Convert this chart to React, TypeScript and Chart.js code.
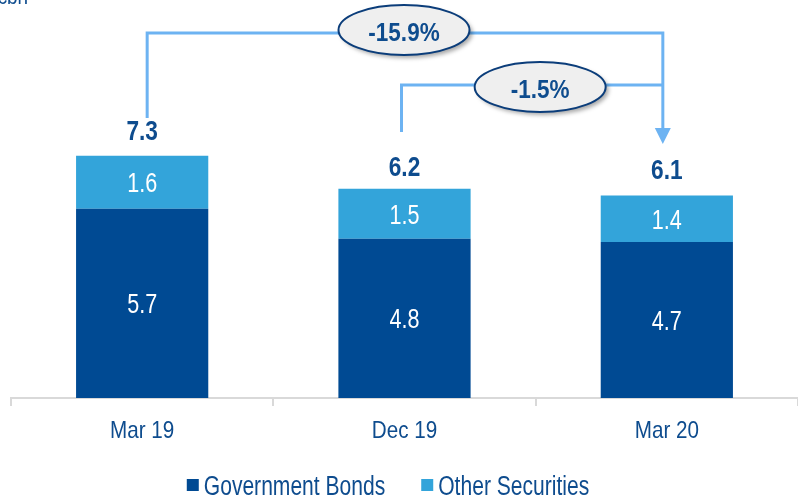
import React, { useEffect, useRef } from "react";
import { Chart, registerables } from "chart.js";

Chart.register(...registerables);

const categories = ["Mar 19", "Dec 19", "Mar 20"];
const governmentBonds = [5.7, 4.8, 4.7];
const otherSecurities = [1.6, 1.5, 1.4];
const totals = [7.3, 6.2, 6.1];
const changeLabels = ["-15.9%", "-1.5%"];
const changeFrom = [0, 1];
const changeTo = 2;
const unitLabel = "€bn";

const FONT = "'Liberation Sans', Arial, sans-serif";
const DARK = "#004A93";
const LIGHT = "#33A4DA";
const TEXT = "#0E4C8E";
const ARROW = "#6DB3F2";

function narrow(
  ctx: CanvasRenderingContext2D,
  text: string,
  x: number,
  y: number,
  size: number,
  bold: boolean,
  sx: number,
  color: string,
  align: CanvasTextAlign = "center"
) {
  ctx.save();
  ctx.translate(x, y);
  ctx.scale(sx, 1);
  ctx.font = `${bold ? "bold " : ""}${size}px ${FONT}`;
  ctx.fillStyle = color;
  ctx.textAlign = align;
  ctx.textBaseline = "alphabetic";
  ctx.fillText(text, 0, 0);
  ctx.restore();
}

function narrowWidth(ctx: CanvasRenderingContext2D, text: string, size: number, bold: boolean, sx: number) {
  ctx.save();
  ctx.font = `${bold ? "bold " : ""}${size}px ${FONT}`;
  const w = ctx.measureText(text).width * sx;
  ctx.restore();
  return w;
}

function ellipse(ctx: CanvasRenderingContext2D, cx: number, cy: number, w: number, h: number, text: string) {
  ctx.save();
  ctx.shadowColor = "rgba(0,0,0,0.35)";
  ctx.shadowOffsetX = 3;
  ctx.shadowOffsetY = 3;
  ctx.shadowBlur = 4;
  ctx.beginPath();
  ctx.ellipse(cx, cy, w / 2, h / 2, 0, 0, Math.PI * 2);
  ctx.fillStyle = "#EFEFEF";
  ctx.fill();
  ctx.restore();
  ctx.save();
  ctx.beginPath();
  ctx.ellipse(cx, cy, w / 2, h / 2, 0, 0, Math.PI * 2);
  ctx.strokeStyle = "#0B3D7A";
  ctx.lineWidth = 2;
  ctx.stroke();
  ctx.restore();
  narrow(ctx, text, cx, cy + 11, 25, true, 0.9, TEXT);
}

const overlay = {
  id: "overlay",
  afterDatasetsDraw(chart: any) {
    const ctx: CanvasRenderingContext2D = chart.ctx;
    const y = chart.scales.y;
    const x = chart.scales.x;
    const metaG = chart.getDatasetMeta(0);
    const metaO = chart.getDatasetMeta(1);

    // values inside segments
    metaG.data.forEach((bar: any, i: number) => {
      narrow(ctx, governmentBonds[i].toFixed(1), bar.x, (bar.y + bar.base) / 2 + 10, 27, false, 0.8, "#ffffff");
    });
    metaO.data.forEach((bar: any, i: number) => {
      narrow(ctx, otherSecurities[i].toFixed(1), bar.x, (bar.y + bar.base) / 2 + 10, 27, false, 0.8, "#ffffff");
    });
    // totals
    metaO.data.forEach((bar: any, i: number) => {
      narrow(ctx, totals[i].toFixed(1), bar.x, y.getPixelForValue(totals[i]) - 16, 27, true, 0.84, TEXT);
    });

    // category labels
    categories.forEach((c, i) => {
      narrow(ctx, c, x.getPixelForValue(i), 438, 24, false, 0.86, TEXT);
    });

    // connector lines
    const xs = metaO.data.map((b: any) => b.x);
    const xTo = xs[changeTo] - 4;
    const x0 = xs[changeFrom[0]] + 5;
    const x1 = xs[changeFrom[1]] - 3;
    const yTop1 = 33;
    const yTop2 = 85;
    ctx.save();
    ctx.strokeStyle = ARROW;
    ctx.lineWidth = 3;
    ctx.beginPath();
    ctx.moveTo(x0, 118);
    ctx.lineTo(x0, yTop1);
    ctx.lineTo(xTo, yTop1);
    ctx.lineTo(xTo, 130);
    ctx.moveTo(x1, 132);
    ctx.lineTo(x1, yTop2);
    ctx.lineTo(xTo, yTop2);
    ctx.stroke();
    ctx.fillStyle = ARROW;
    ctx.beginPath();
    ctx.moveTo(xTo - 8, 128);
    ctx.lineTo(xTo + 8, 128);
    ctx.lineTo(xTo, 144);
    ctx.closePath();
    ctx.fill();
    ctx.restore();

    ellipse(ctx, (x0 + xTo) / 2 - 1, 30, 131, 50, changeLabels[0]);
    ellipse(ctx, (x1 + xTo) / 2 + 8, 87, 131, 50, changeLabels[1]);

    // unit label (cut at top)
    narrow(ctx, unitLabel, 28, 4, 22, false, 0.86, TEXT, "right");

    // legend
    const items = chart.data.datasets.map((d: any) => ({ label: d.label, color: d.backgroundColor }));
    const box = 12;
    const gapBoxText = 5;
    const gapItems = 36;
    const lsize = 27;
    const lsx = 0.78;
    const widths = items.map((it: any) => box + gapBoxText + narrowWidth(ctx, it.label, lsize, false, lsx));
    const total = widths.reduce((a: number, b: number) => a + b, 0) + gapItems * (items.length - 1);
    let lx = chart.width / 2 - 11 - total / 2;
    items.forEach((it: any, i: number) => {
      ctx.fillStyle = it.color;
      ctx.fillRect(lx, 479, box, box);
      narrow(ctx, it.label, lx + box + gapBoxText, 495, lsize, false, lsx, TEXT, "left");
      lx += widths[i] + gapItems;
    });
  },
};

export default function App() {
  const ref = useRef<HTMLCanvasElement>(null);
  useEffect(() => {
    if (!ref.current) return;
    const chart = new Chart(ref.current, {
      type: "bar",
      data: {
        labels: categories,
        datasets: [
          { label: "Government Bonds", data: governmentBonds, backgroundColor: DARK, borderWidth: 0 },
          { label: "Other Securities", data: otherSecurities, backgroundColor: LIGHT, borderWidth: 0 },
        ],
      },
      options: {
        animation: false,
        responsive: false,
        maintainAspectRatio: false,
        layout: { padding: { left: 11, right: -5, top: 66, bottom: 0 } },
        plugins: { legend: { display: false }, tooltip: { enabled: false } },
        datasets: { bar: { barPercentage: 1, categoryPercentage: 0.504 } },
        scales: {
          x: {
            stacked: true,
            afterFit: (s: any) => {
              s.height = 101;
            },
            border: { color: "#D9D9D9", width: 2 },
            grid: { offset: true, drawOnChartArea: false, drawTicks: true, tickLength: 8, color: "#D9D9D9", lineWidth: 2 },
            ticks: { display: false },
          },
          y: {
            stacked: true,
            display: false,
            min: 0,
            max: 10,
          },
        },
      },
      plugins: [overlay],
    });
    return () => chart.destroy();
  }, []);
  return (
    <div style={{ position: "fixed", left: 0, top: 0, width: 798, height: 499, background: "#fff" }}>
      <canvas ref={ref} width={798} height={499} style={{ display: "block" }} />
    </div>
  );
}
